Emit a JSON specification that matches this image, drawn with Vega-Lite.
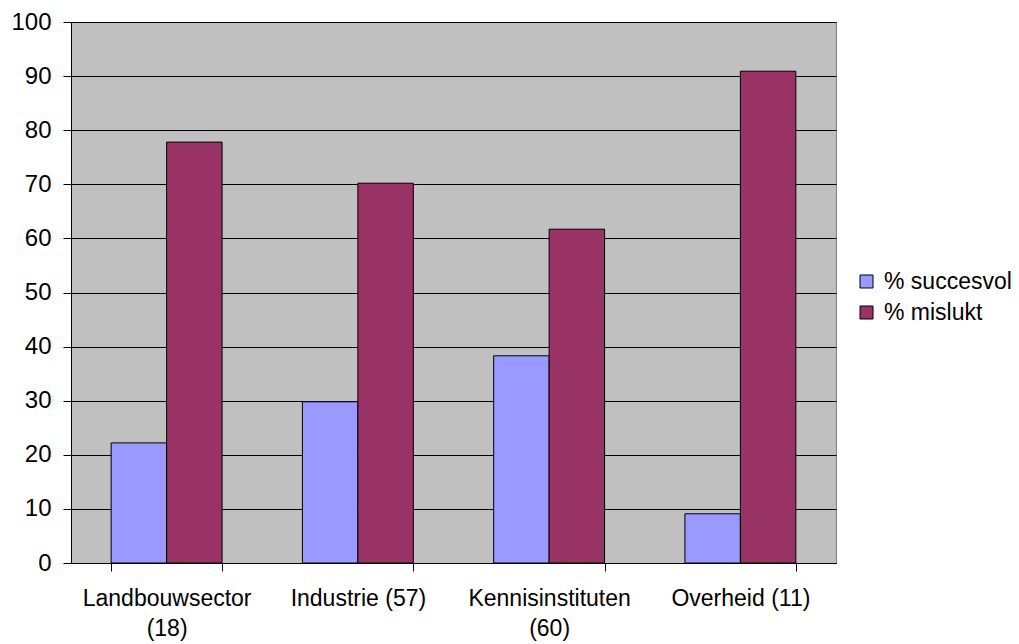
{
  "$schema": "https://vega.github.io/schema/vega-lite/v6.json",
  "autosize": "none",
  "width": 765,
  "height": 541,
  "padding": {"left": 71, "top": 22, "right": 183, "bottom": 81},
  "background": "white",
  "config": {
    "font": "Liberation Sans",
    "view": {"fill": "#C0C0C0", "stroke": "#808080", "strokeWidth": 1}
  },
  "data": {
    "values": [
      {"categorie": "Landbouwsector (18)", "reeks": "% succesvol", "waarde": 22.2},
      {"categorie": "Landbouwsector (18)", "reeks": "% mislukt", "waarde": 77.8},
      {"categorie": "Industrie (57)", "reeks": "% succesvol", "waarde": 29.8},
      {"categorie": "Industrie (57)", "reeks": "% mislukt", "waarde": 70.2},
      {"categorie": "Kennisinstituten (60)", "reeks": "% succesvol", "waarde": 38.3},
      {"categorie": "Kennisinstituten (60)", "reeks": "% mislukt", "waarde": 61.7},
      {"categorie": "Overheid (11)", "reeks": "% succesvol", "waarde": 9.1},
      {"categorie": "Overheid (11)", "reeks": "% mislukt", "waarde": 90.9}
    ]
  },
  "mark": {"type": "bar", "stroke": "black", "strokeWidth": 1},
  "encoding": {
    "x": {
      "field": "categorie",
      "type": "nominal",
      "sort": null,
      "scale": {"paddingInner": 0.42, "paddingOuter": 0.21},
      "axis": {
        "title": null,
        "labelAngle": 0,
        "labelFontSize": 23,
        "labelColor": "black",
        "labelPadding": 16,
        "labelLineHeight": 30,
        "labelExpr": "datum.label == 'Landbouwsector (18)' ? ['Landbouwsector', '(18)'] : datum.label == 'Kennisinstituten (60)' ? ['Kennisinstituten', '(60)'] : datum.label",
        "tickBand": "extent",
        "tickSize": 8,
        "tickColor": "black",
        "domainColor": "black",
        "grid": false
      }
    },
    "xOffset": {
      "field": "reeks",
      "type": "nominal",
      "sort": ["% succesvol", "% mislukt"],
      "scale": {"paddingInner": 0, "paddingOuter": 0}
    },
    "y": {
      "field": "waarde",
      "type": "quantitative",
      "scale": {"domain": [0, 100], "nice": false},
      "axis": {
        "title": null,
        "values": [0, 10, 20, 30, 40, 50, 60, 70, 80, 90, 100],
        "labelFontSize": 24,
        "labelColor": "black",
        "labelPadding": 12,
        "tickSize": 8,
        "tickColor": "black",
        "domainColor": "black",
        "grid": true,
        "gridColor": "black",
        "gridOpacity": 1,
        "gridWidth": 1
      }
    },
    "color": {
      "field": "reeks",
      "type": "nominal",
      "sort": ["% succesvol", "% mislukt"],
      "scale": {"domain": ["% succesvol", "% mislukt"], "range": ["#9999FF", "#993366"]},
      "legend": {
        "title": null,
        "orient": "none",
        "legendX": 784,
        "legendY": 248,
        "symbolType": "square",
        "symbolSize": 169,
        "symbolStrokeColor": "black",
        "symbolStrokeWidth": 1,
        "labelFontSize": 23,
        "labelColor": "black",
        "rowPadding": 7,
        "labelOffset": 6,
        "labelLimit": 200
      }
    }
  }
}
